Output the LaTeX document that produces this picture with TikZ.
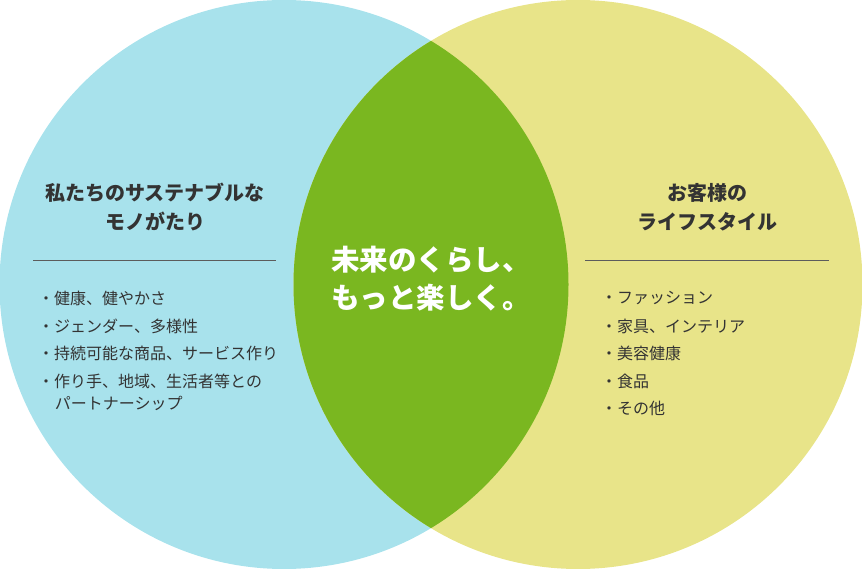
\documentclass[tikz,border=0pt]{standalone}
\usepackage{fontspec}
\newfontfamily\jp{Noto Sans CJK JP}
\definecolor{cblue}{HTML}{A8E2EC}
\definecolor{cyel}{HTML}{E8E489}
\definecolor{cgreen}{HTML}{7AB720}
\definecolor{ctext}{HTML}{333333}
\begin{document}
\begin{tikzpicture}[x=1pt,y=-1pt,
  title/.style={font=\jp\bfseries\fontsize{20}{29}\selectfont,text=ctext,align=center},
  item/.style={font=\jp\fontsize{16}{22}\selectfont,text=ctext,anchor=west,inner sep=0pt},
  center/.style={font=\jp\bfseries\fontsize{28.5}{38}\selectfont,text=white,align=center},
  rule/.style={draw=ctext!80,line width=0.6pt}]
\useasboundingbox (0,0) rectangle (862,569);
\fill[cblue] (284,284.5) circle (284.5);
\fill[cyel] (578,284.5) circle (284.5);
\begin{scope}
\clip (284,284.5) circle (284.5);
\fill[cgreen] (578,284.5) circle (284.5);
\end{scope}
\node[title] (lt) at (155,207) {私たちのサステナブルな\\モノがたり};
\coordinate (l1) at (33,260); \coordinate (l2) at (276,260);
\draw[rule] (l1) -- (l2);
\node[item] (la) at (38,298) {・健康、健やかさ};
\node[item] (lb) at (38,326) {・ジェンダー、多様性};
\node[item] (lc) at (38,353) {・持続可能な商品、サービス作り};
\node[item] (ld) at (38,381) {・作り手、地域、生活者等との};
\node[item] (le) at (54,403) {\hspace{0.04em}パートナーシップ};
\node[title] (rt) at (707,207) {お客様の\\ライフスタイル};
\coordinate (r1) at (585,260); \coordinate (r2) at (829,260);
\draw[rule] (r1) -- (r2);
\node[item] (ra) at (601,298) {・ファッション};
\node[item] (rb) at (601,326) {・家具、インテリア};
\node[item] (rc) at (601,353) {・美容健康};
\node[item] (rd) at (601,381) {・食品};
\node[item] (re) at (601,408) {・その他};
\node[center] (c) at (431,279) {未来のくらし、\\もっと楽しく。};
\end{tikzpicture}
\end{document}
